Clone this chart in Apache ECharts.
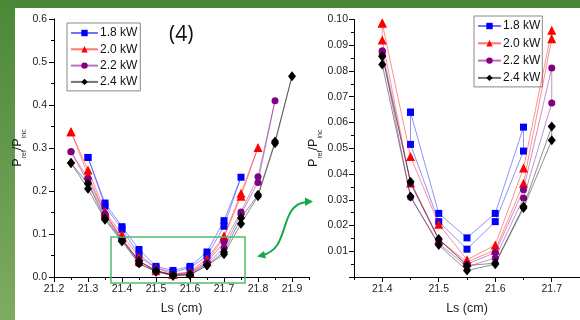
<!DOCTYPE html>
<html><head><meta charset="utf-8">
<script src="https://cdn.jsdelivr.net/npm/echarts@6/dist/echarts.min.js"></script>
<style>html,body{margin:0;padding:0;background:#fff}#c{width:580px;height:320px}</style>
</head><body><div id="c"></div>
<script>
// ---- data ----
const powers = ['1.8 kW', '2.0 kW', '2.2 kW', '2.4 kW'];
const lsValues = [21.25, 21.3, 21.35, 21.4, 21.45, 21.5, 21.55, 21.6, 21.65, 21.7, 21.75, 21.8, 21.85, 21.9];
// two measurement runs per power (A, B)
const p18A = [null, 0.278, 0.172, 0.117, 0.064, 0.0247, 0.0152, 0.0247, 0.0582, 0.131, 0.232, null, null, null];
const p18B = [null, null, 0.165, 0.111, 0.0515, 0.0215, 0.0108, 0.0215, 0.0489, 0.118, null, null, null, null];
const p20A = [0.338, 0.249, 0.153, 0.0986, 0.0468, 0.0205, 0.0067, 0.0124, 0.0423, 0.0958, 0.195, 0.301, null, null];
const p20B = [null, 0.237, 0.148, 0.092, 0.0365, 0.0145, 0.0058, 0.0105, 0.0364, 0.0925, 0.188, null, null, null];
const p22A = [0.291, 0.229, 0.147, 0.0878, 0.0365, 0.0145, 0.005, 0.0095, 0.0339, 0.0812, 0.151, 0.233, 0.41, null];
const p22B = [null, 0.22, 0.142, 0.087, 0.031, 0.013, 0.004, 0.0074, 0.0307, 0.0676, 0.146, 0.22, null, null];
const p24A = [0.265, 0.217, 0.136, 0.0857, 0.037, 0.0148, 0.0044, 0.0054, 0.0274, 0.0584, 0.137, 0.191, 0.315, 0.467];
const p24B = [null, 0.205, 0.133, 0.0825, 0.0313, 0.0124, 0.0025, 0.005, 0.0268, 0.0531, 0.124, 0.188, 0.311, null];
const runsA = [p18A, p20A, p22A, p24A];
const runsB = [p18B, p20B, p22B, p24B];
// tick labels
const leftXTicks = [21.2, 21.3, 21.4, 21.5, 21.6, 21.7, 21.8, 21.9];
const leftXMinor = [21.25, 21.35, 21.45, 21.55, 21.65, 21.75, 21.85, 21.95];
const rightXTicks = [21.4, 21.5, 21.6, 21.7];
const rightXMinor = [21.35, 21.45, 21.55, 21.65, 21.75];

// ---- styles ----
const marks = [
  {c: '#0000ff', sym: 'rect', size: 7},
  {c: '#ff0000', sym: 'triangle', size: 9},
  {c: '#800080', sym: 'circle', size: 7},
  {c: '#000000', sym: 'diamond', size: [8, 10]}
];
const FONT = '"Liberation Sans", Arial, sans-serif';

function loop(a, b, lo, hi, top) {
  const ok = (x, v) => v != null && x >= lo - 1e-9 && x <= hi + 1e-9 && v <= top;
  const pts = [];
  lsValues.forEach((x, i) => { if (ok(x, a[i])) pts.push([x, a[i]]); });
  for (let i = lsValues.length - 1; i >= 0; i--) if (ok(lsValues[i], b[i])) pts.push([lsValues[i], b[i]]);
  if (pts.length) pts.push(pts[0].slice());
  return pts;
}

const series = [];
[0, 1].forEach(g => {
  powers.forEach((p, k) => {
    const lo = g === 0 ? 21.2 : 21.4, hi = g === 0 ? 21.95 : 21.7, top = g === 0 ? 0.6 : 0.1;
    series.push({
      type: 'line', name: p, xAxisIndex: g * 2, yAxisIndex: g,
      data: loop(runsA[k], runsB[k], lo, hi, top),
      symbol: marks[k].sym, symbolSize: marks[k].size, showAllSymbol: true,
      itemStyle: {color: marks[k].c, opacity: 1},
      lineStyle: {color: marks[k].c, width: 0.8, opacity: 0.55},
      clip: true, animation: false, z: 3 + k
    });
  });
});

const axisText = {fontFamily: FONT, fontSize: 10.5, color: '#222'};
const yName = '{a|P}{s|ref}{a|/P}{s|inc}';
const yNameStyle = {
  rich: {
    a: {fontFamily: FONT, fontSize: 12.5, color: '#222', lineHeight: 15},
    s: {fontFamily: FONT, fontSize: 7, color: '#222', lineHeight: 15, verticalAlign: 'bottom', padding: [0, 0, -3, 0]}
  }
};
function xMain(grid, min, max, ticks, name) {
  return {
    type: 'value', gridIndex: grid, min: min, max: max,
    name: name, nameLocation: 'middle', nameGap: 25,
    nameTextStyle: {fontFamily: FONT, fontSize: 12.5, color: '#222'},
    axisLine: {show: true, onZero: false, lineStyle: {color: '#000', width: 1}},
    axisTick: {show: true, inside: false, length: 5, customValues: ticks, lineStyle: {color: '#000'}},
    axisLabel: Object.assign({customValues: ticks, margin: 7, formatter: v => v.toFixed(1)}, axisText),
    splitLine: {show: false}
  };
}
function xMinor(grid, min, max, ticks) {
  return {
    type: 'value', gridIndex: grid, min: min, max: max, position: 'bottom',
    axisLine: {show: false, onZero: false},
    axisTick: {show: true, inside: false, length: 3, customValues: ticks, lineStyle: {color: '#000'}},
    axisLabel: {show: false}, splitLine: {show: false}
  };
}

const option = {
  backgroundColor: '#ffffff',
  animation: false,
  grid: [
    {left: 54, top: 19, width: 255, bottom: 39, containLabel: false},
    {left: 354, top: 19.5, width: 236, bottom: 37, containLabel: false}
  ],
  xAxis: [
    xMain(0, 21.2, 21.95, leftXTicks, 'Ls (cm)'),
    xMinor(0, 21.2, 21.95, leftXMinor),
    xMain(1, 21.35, 21.75, rightXTicks, 'Ls (cm)'),
    xMinor(1, 21.35, 21.75, rightXMinor)
  ],
  yAxis: [
    {
      type: 'value', gridIndex: 0, min: 0, max: 0.6, interval: 0.1,
      name: yName, nameLocation: 'middle', nameGap: 29, nameTextStyle: yNameStyle,
      axisLine: {show: true, lineStyle: {color: '#000'}},
      axisTick: {show: true, inside: false, length: 5, lineStyle: {color: '#000'}},
      minorTick: {show: true, splitNumber: 2, length: 3, lineStyle: {color: '#000'}},
      axisLabel: Object.assign({margin: 7, formatter: v => v.toFixed(1)}, axisText),
      splitLine: {show: false}
    },
    {
      type: 'value', gridIndex: 1, min: 0, max: 0.1, interval: 0.01,
      name: yName, nameLocation: 'middle', nameGap: 31, nameTextStyle: yNameStyle,
      axisLine: {show: true, lineStyle: {color: '#000'}},
      axisTick: {show: true, inside: false, length: 5, lineStyle: {color: '#000'}},
      minorTick: {show: true, splitNumber: 2, length: 3, lineStyle: {color: '#000'}},
      axisLabel: Object.assign({margin: 6, formatter: v => (v < 1e-9 ? '' : v.toFixed(2))}, axisText),
      splitLine: {show: false}
    }
  ],
  legend: [
    {
      data: powers, orient: 'vertical', left: 67, top: 23, itemGap: 4.3, itemWidth: 27, itemHeight: 8,
      padding: [4, 3, 3, 3], borderColor: '#888', borderWidth: 1, backgroundColor: '#fff',
      textStyle: {fontFamily: FONT, fontSize: 12, color: '#111', padding: [0, 0, 0, -3]},
      selectedMode: false
    },
    {
      data: powers, orient: 'vertical', left: 474, top: 16, itemGap: 5.3, itemWidth: 23, itemHeight: 8,
      padding: [4, 2, 3, 3], borderColor: '#888', borderWidth: 1, backgroundColor: '#fff',
      textStyle: {fontFamily: FONT, fontSize: 12, color: '#111', padding: [0, 0, 0, -3]},
      selectedMode: false
    }
  ],
  graphic: [
    {type: 'rect', left: 0, top: 0, z: -10, shape: {width: 580, height: 8}, style: {fill: '#4a8837'}},
    {type: 'rect', left: 0, top: 0, z: -10, shape: {width: 15, height: 320},
      style: {fill: new echarts.graphic.LinearGradient(0, 0, 0, 1, [{offset: 0, color: '#4b8838'}, {offset: 1, color: '#7eab62'}])}},
    {type: 'text', left: 169, top: 25, z: 10, style: {text: '(4)', font: '21px "Open Sans"', fill: '#111'}},
    {type: 'rect', z: 10, shape: {x: 111, y: 237, width: 134, height: 46}, style: {fill: 'none', stroke: '#4dba6a', lineWidth: 1.5}},
    {type: 'bezierCurve', z: 10, shape: {x1: 262, y1: 255, cpx1: 291, cpy1: 250, cpx2: 278, cpy2: 205, x2: 306, y2: 202},
      style: {stroke: '#17a84b', lineWidth: 2, fill: 'none'}},
    {type: 'polygon', z: 10, shape: {points: [[313, 201.5], [305, 197.5], [305, 206]]}, style: {fill: '#17a84b'}},
    {type: 'polygon', z: 10, shape: {points: [[257, 256.5], [264, 251], [266, 258.5]]}, style: {fill: '#17a84b'}}
  ],
  series: series
};
const chart = echarts.init(document.getElementById('c'), null, {renderer: 'canvas'});
chart.setOption(option);
</script>
</body></html>
